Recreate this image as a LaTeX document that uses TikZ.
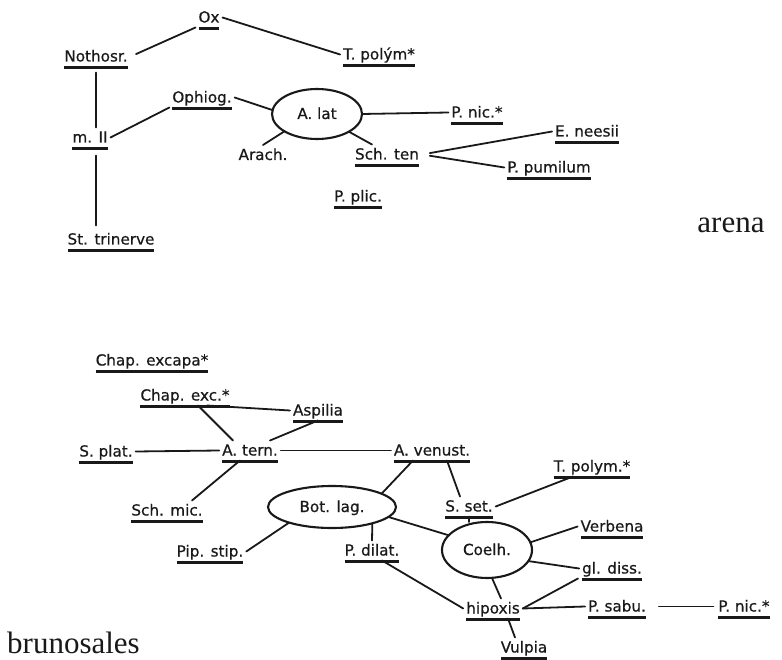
\documentclass[tikz,border=0pt]{standalone}
\usepackage{fontspec}
\usetikzlibrary{shapes.geometric}
\newfontfamily\labfont[FakeBold=0.6]{DejaVu Sans}
\newfontfamily\capfont{Liberation Serif}

\tikzset{
  wire/.style={draw=black!90, line width=1.8pt, line cap=round},
  uline/.style={draw=black!90, line width=2.1pt},
  txt/.style={font=\labfont\fontsize{15.2}{18}\selectfont, text=black!90,
    inner sep=0pt, outer sep=3pt, text height=12pt, text depth=2pt, anchor=base},
  spp/.style={txt, append after command={
    ([xshift=3pt,yshift=-6pt]\tikzlastnode.base west) edge[uline]
    ([xshift=-3pt,yshift=-6pt]\tikzlastnode.base east)}},
  blob/.style={txt, ellipse, draw=black!90, line width=2.1pt, anchor=center, outer sep=0pt},
  site/.style={font=\capfont\fontsize{31}{34}\selectfont, text=black!90, inner sep=0pt},
}

\begin{document}
\begin{tikzpicture}[x=1pt,y=-1pt]
\useasboundingbox (0,0) rectangle (782,660);

% ---- arena ----
\node[spp] (ox)      at (209,22.5)  {Ox};
\node[spp] (noth)    at (96,61.5)   {Nothosr.};
\node[spp] (tpol)    at (379,59.5)  {T. polým*};
\node[spp] (ophiog)  at (202,102.5) {Ophiog.};
\node[spp] (mII)     at (90,142.5)  {m. II};
\node[spp] (stt)     at (111,244.5) {St. trinerve};
\node[blob, minimum width=90pt, minimum height=50pt] (alat) at (317,114) {A. lat};
\node[spp] (pnic1)   at (477,117.5) {P. nic.*};
\node[txt] (arach)   at (263,160)   {Arach.};
\node[spp] (schten)  at (387,159.5) {Sch. ten};
\node[spp] (eneesii) at (587,136.5) {E. neesii};
\node[spp] (ppum)    at (549,172.5) {P. pumilum};
\node[spp] (pplic)   at (358,201.5) {P. plic.};
\node[site, anchor=base] (arena) at (731,233) {arena};

\draw[wire, shorten <=6pt] (noth.east) -- (ox.south west);
\draw[wire] (ox.east) -- (tpol.west);
\draw[wire, shorten <=6pt] (noth.south) -- (noth.south |- mII.north);
\draw[wire, shorten <=8pt, shorten >=4pt] (noth.south |- mII.south) -- (noth.south |- stt.north);
\draw[wire] (mII.east) -- (ophiog.south west);
\draw[wire] (ophiog.east) -- (alat.175);
\draw[wire] (alat.east) -- (pnic1.west);
\draw[wire] (alat.208) -- (arach.north);
\draw[wire] (alat.-29) -- ([xshift=-15pt]schten.north);
\draw[wire, shorten <=8pt] (schten.east) -- (eneesii.west);
\draw[wire, shorten <=8pt] (schten.east) -- (ppum.west);

% ---- brunosales ----
\node[spp] (chapexa) at (152,365.5) {Chap. excapa*};
\node[spp] (chapexc) at (185,400.5) {Chap. exc.*};
\node[spp] (aspilia) at (318,415.5) {Aspilia};
\node[spp] (splat)   at (106,456.5) {S. plat.};
\node[spp] (atern)   at (250,455.5) {A. tern.};
\node[spp] (avenust) at (432,455.5) {A. venust.};
\node[spp] (schmic)  at (167,515.5) {Sch. mic.};
\node[spp] (pipstip) at (210,556.5) {Pip. stip.};
\node[blob, minimum width=128pt, minimum height=42pt] (botlag) at (332,507) {Bot. lag.};
\node[spp] (pdilat)  at (372,555.5) {P. dilat.};
\node[spp] (sset)    at (469,511.5) {S. set.};
\node[blob, minimum width=90pt, minimum height=56pt] (coelh) at (487,550) {Coelh.};
\node[spp] (tpol2)   at (592,471.5) {T. polym.*};
\node[spp] (verbena) at (612,531.5) {Verbena};
\node[spp] (gldiss)  at (612,573.5) {gl. diss.};
\node[spp] (hipoxis) at (493,613.5) {hipoxis};
\node[spp] (psabu)   at (617,611.5) {P. sabu.};
\node[spp] (pnic2)   at (744,611.5) {P. nic.*};
\node[spp] (vulpia)  at (524,652.5) {Vulpia};
\node[site, anchor=base west] (bruno) at (7,653) {brunosales};

\draw[wire] ([xshift=13pt]chapexc.south) -- ([xshift=-17pt]atern.north);
\draw[wire] (aspilia.west) -- ([xshift=22pt]chapexc.south);
\draw[wire] (aspilia.south) -- ([xshift=20pt]atern.north);
\draw[wire] (splat.east) -- (atern.west);
\draw[wire] (atern.east) -- (avenust.west);
\draw[wire] ([xshift=-19pt]avenust.south) -- (botlag.15);
\draw[wire] ([xshift=15pt]avenust.south) -- ([xshift=-9pt]sset.north);
\draw[wire] ([xshift=-10pt]atern.south) -- ([xshift=25pt]schmic.north);
\draw[wire] (pipstip.east) -- (botlag.200);
\draw[wire] (botlag.-22) -- (pdilat.north);
\draw[wire] (botlag.-10) -- (coelh.159);
\draw[wire] ([xshift=10pt]pdilat.south) -- (hipoxis.west);
\draw[wire] (sset.south) -- (sset.south |- coelh.north);
\draw[wire] (sset.east) -- ([xshift=-19pt]tpol2.south);
\draw[wire] (coelh.10) -- (verbena.west);
\draw[wire] (coelh.-15) -- (gldiss.west);
\draw[wire] (coelh.-80) -- ([xshift=8pt]hipoxis.north);
\draw[wire] (hipoxis.east) -- ([xshift=-34pt]gldiss.south);
\draw[wire] (hipoxis.east) -- (psabu.west);
\draw[wire, shorten <=10pt, shorten >=2pt] (psabu.east) -- (pnic2.west);
\draw[wire] ([xshift=15pt]hipoxis.south) -- ([xshift=-9pt]vulpia.north);
\end{tikzpicture}
\end{document}
